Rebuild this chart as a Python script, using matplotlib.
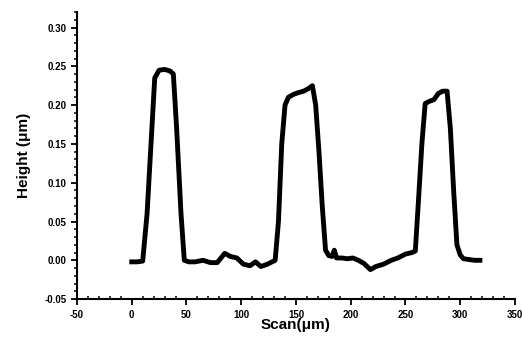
import matplotlib
matplotlib.use("Agg")
import matplotlib.pyplot as plt
from matplotlib.ticker import MultipleLocator

# profile
scan = [0, 5, 10, 14, 18, 21, 25, 30, 35, 38, 41, 45, 48, 52, 58, 65, 72, 78, 85, 90,
        96, 102, 108, 113, 118, 124, 131, 134, 137, 140, 143, 148, 152, 157, 161, 165,
        168, 171, 174, 177, 180, 183, 185, 187, 192, 197, 202, 207, 212, 218, 223, 230,
        237, 243, 250, 256, 259, 262, 265, 268, 272, 276, 280, 284, 288, 291, 294, 297,
        300, 303, 308, 313, 318]
height = [-0.002, -0.002, -0.001, 0.06, 0.16, 0.235, 0.245, 0.246, 0.244, 0.24, 0.17, 0.06, 0.0,
          -0.002, -0.002, 0.0, -0.003, -0.003, 0.009, 0.005, 0.003, -0.005, -0.007, -0.002,
          -0.008, -0.005, 0.0, 0.05, 0.15, 0.20, 0.21, 0.214, 0.216, 0.218, 0.221, 0.225,
          0.20, 0.14, 0.07, 0.013, 0.006, 0.005, 0.013, 0.003, 0.003, 0.002, 0.003, 0.0,
          -0.004, -0.012, -0.008, -0.005, 0.0, 0.003, 0.008, 0.01, 0.012, 0.08, 0.15, 0.202,
          0.205, 0.207, 0.215, 0.218, 0.218, 0.17, 0.09, 0.02, 0.007, 0.002, 0.001, 0.0, 0.0]

x_ticks = [-50, 0, 50, 100, 150, 200, 250, 300, 350]
y_ticks = [-0.05, 0.00, 0.05, 0.10, 0.15, 0.20, 0.25, 0.30]

plt.rcParams['font.family'] = ['Liberation Sans', 'DejaVu Sans']

fig = plt.figure(figsize=(5.22, 3.43), dpi=100)
ax = fig.add_axes([0.1475, 0.128, 0.839, 0.837])

ax.plot(scan, height, color="black", lw=3.5, solid_joinstyle="round")

ax.set_xlim(-50, 350)
ax.set_ylim(-0.05, 0.32)
ax.set_xticks(x_ticks)
ax.set_yticks(y_ticks)
ax.set_xticklabels([str(t) for t in x_ticks])
ax.set_yticklabels([f"{t:.2f}" for t in y_ticks])
ax.xaxis.set_minor_locator(MultipleLocator(10))
ax.yaxis.set_minor_locator(MultipleLocator(0.01))

for s in ["top", "right"]:
    ax.spines[s].set_visible(False)
for s in ["left", "bottom"]:
    ax.spines[s].set_linewidth(1.5)

ax.tick_params(which="major", length=4, width=1.3, labelsize=7)
ax.tick_params(which="minor", length=2.5, width=1.1)
ax.tick_params(axis="x", which="minor", direction="in")
for lab in ax.get_xticklabels() + ax.get_yticklabels():
    lab.set_fontweight("bold")

ax.set_xlabel("Scan(μm)", fontsize=11, fontweight="bold", labelpad=-1)
ax.set_ylabel("Height (μm)", fontsize=11, fontweight="bold", labelpad=10)

fig.savefig("out.png", dpi=100)
